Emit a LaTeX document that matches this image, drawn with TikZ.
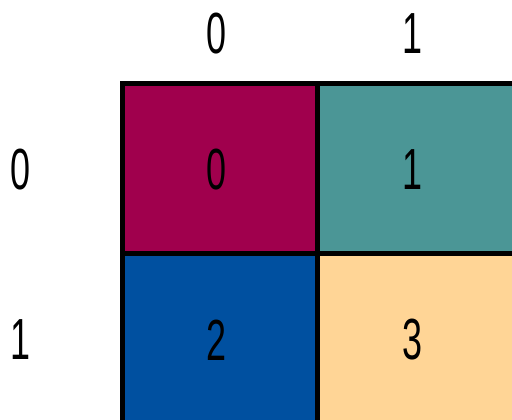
\documentclass[tikz,border=0pt]{standalone}
\usepackage{fontspec}
\setmainfont{Liberation Sans}
\definecolor{cA}{RGB}{160,0,77}
\definecolor{cB}{RGB}{75,150,150}
\definecolor{cC}{RGB}{0,80,160}
\definecolor{cD}{RGB}{255,213,150}
\begin{document}
\begin{tikzpicture}[x=0.5pt,y=-0.5pt,
  cell/.style={draw=black,line width=2.5pt},
  num/.style={font=\fontsize{29}{29}\selectfont,xscale=0.62,inner sep=0pt}]
\useasboundingbox (0,0) rectangle (512,419);
\clip (0,0) rectangle (512,419);
\fill[white] (0,0) rectangle (512,419);
\path[cell,fill=cA] (122,83) rectangle (317,253);
\path[cell,fill=cB] (317,83) rectangle (530,253);
\path[cell,fill=cC] (122,253) rectangle (317,440);
\path[cell,fill=cD] (317,253) rectangle (530,440);
\node[num] (c0) at (216,170) {0};
\node[num] (c1) at (412,170) {1};
\node[num] (c2) at (216,340) {2};
\node[num] (c3) at (412,340) {3};
\node[num] (h0) at (216,34) {0};
\node[num] (h1) at (412,34) {1};
\node[num] (r0) at (20,170) {0};
\node[num] (r1) at (20,340) {1};
\end{tikzpicture}
\end{document}
